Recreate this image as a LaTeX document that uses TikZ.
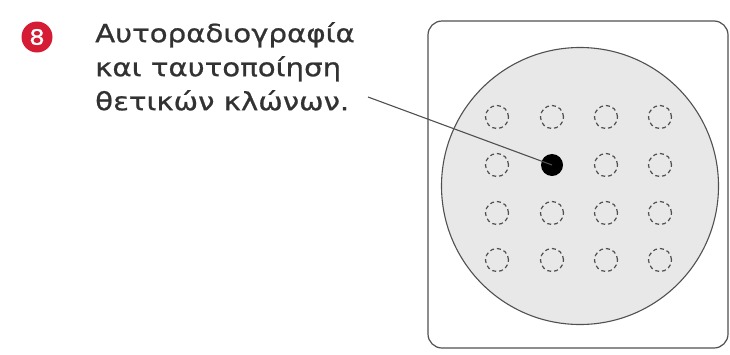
\documentclass[tikz,border=0pt]{standalone}
\usepackage{fontspec}
\setmainfont{DejaVu Sans}
\newfontfamily\widefont[FakeStretch=1.17,FakeBold=0.8]{DejaVu Sans}
\definecolor{badge}{RGB}{214,28,52}
\definecolor{plate}{RGB}{232,232,232}
\definecolor{linegray}{RGB}{80,80,80}
\definecolor{txtgray}{RGB}{50,50,50}
\begin{document}
\begin{tikzpicture}[x=1pt,y=-1pt,
  colony/.style={circle,draw=linegray,dashed,dash pattern=on 4pt off 3pt,line width=1.2pt,minimum size=23pt,inner sep=0pt},
  label/.style={font=\widefont\fontsize{25}{34}\selectfont,text=txtgray,align=left,anchor=north west,inner sep=0pt}]
\useasboundingbox (0,0) rectangle (730,354);
\node[circle,fill=badge,minimum size=31pt,inner sep=0pt,text=white,font=\widefont\fontsize{21}{21}\selectfont] (badge) at (37,37) {8};
\node[label] (txt) at (95,22) {Αυτοραδιογραφία\\και ταυτοποίηση\\θετικών κλώνων.};
\draw[draw=linegray,line width=1.2pt,rounded corners=14pt] (428,21) rectangle (728,348);
\node[circle,draw=linegray,fill=plate,line width=1.1pt,minimum size=277pt,inner sep=0pt] (plate) at (580,186) {};
\foreach \r/\y in {1/117,2/165,3/213,4/260}{
  \foreach \c/\x in {1/497,2/552,3/606,4/660}{
    \ifnum\r=2 \ifnum\c=2 \else \node[colony] (c\r\c) at (\x,\y) {}; \fi
    \else \node[colony] (c\r\c) at (\x,\y) {}; \fi
  }
}
\node[circle,fill=black,minimum size=22pt,inner sep=0pt] (pos) at (552,165) {};
\coordinate (lstart) at (368,97);
\draw[linegray,line width=1.1pt] (lstart) -- (pos.center);
\end{tikzpicture}
\end{document}
